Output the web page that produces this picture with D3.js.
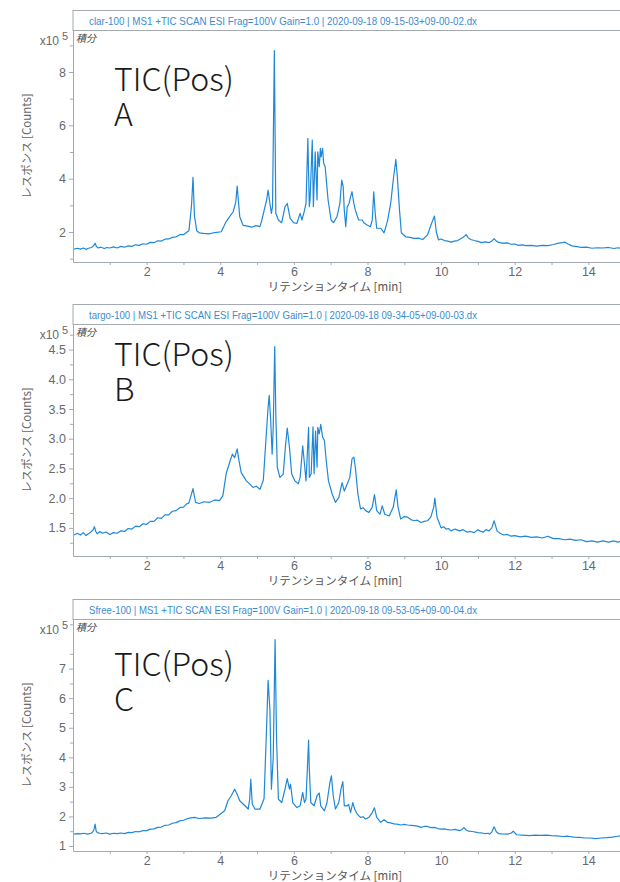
<!DOCTYPE html>
<html>
<head>
<meta charset="utf-8">
<script src="https://cdn.jsdelivr.net/npm/d3@7"></script>
<style>
  body { margin: 0; background: #ffffff; }
</style>
</head>
<body>
<svg id="Chart" width="620" height="882"></svg>
<script>
// Traces: [retention time (min), response (x10^5 counts)]
// Panel A: clar-100
var TitleA = "clar-100 | MS1 +TIC SCAN ESI Frag=100V Gain=1.0 | 2020-09-18 09-15-03+09-00-02.dx";
var TraceA = [[0.03,1.36],[0.12,1.39],[0.2,1.36],[0.28,1.40],[0.35,1.35],[0.42,1.39],[0.5,1.42],[0.56,1.48],[0.6,1.58],[0.64,1.45],
    [0.68,1.40],[0.76,1.43],[0.85,1.38],[0.92,1.42],[1.0,1.40],[1.1,1.44],[1.2,1.40],[1.3,1.46],[1.4,1.43],[1.5,1.48],
    [1.6,1.46],[1.7,1.52],[1.8,1.50],[1.9,1.56],[2.0,1.54],[2.1,1.61],[2.2,1.60],[2.3,1.67],[2.4,1.66],[2.5,1.73],
    [2.6,1.74],[2.7,1.80],[2.8,1.82],[2.9,1.90],[3.0,1.90],[3.08,1.98],[3.15,2.05],[3.22,3.0],[3.26,4.05],[3.3,2.6],
    [3.36,2.05],[3.43,1.97],[3.55,1.95],[3.7,1.93],[3.85,1.98],[4.03,2.01],[4.16,2.39],[4.35,2.76],[4.42,3.1],[4.46,3.72],
    [4.53,2.57],[4.62,2.25],[4.75,2.22],[4.85,2.18],[4.97,2.24],[5.08,2.2],[5.12,2.39],[5.26,3.2],[5.3,3.57],[5.35,3.07],
    [5.39,2.7],[5.42,2.95],[5.47,8.8],[5.51,2.7],[5.58,2.45],[5.67,2.35],[5.76,2.95],[5.82,3.07],[5.9,2.51],[5.99,2.35],
    [6.08,2.32],[6.17,2.7],[6.22,2.45],[6.28,2.76],[6.33,3.07],[6.38,5.51],[6.42,2.95],[6.44,3.2],[6.5,5.45],[6.53,2.95],
    [6.58,5.01],[6.63,3.2],[6.65,5.01],[6.69,4.45],[6.72,5.14],[6.74,4.82],[6.78,5.14],[6.81,4.58],[6.85,4.45],[6.93,3.2],
    [7.01,2.45],[7.08,2.35],[7.17,2.57],[7.25,3.07],[7.3,3.95],[7.34,3.7],[7.37,2.82],[7.41,2.2],[7.45,2.95],[7.5,3.07],
    [7.54,3.32],[7.58,3.51],[7.63,3.07],[7.67,2.82],[7.76,2.45],[7.86,2.45],[7.9,2.35],[7.99,2.26],[8.08,2.2],[8.13,2.45],
    [8.17,3.51],[8.21,2.7],[8.25,2.14],[8.36,2.14],[8.45,1.97],[8.54,2.39],[8.63,3.07],[8.7,3.95],[8.77,4.72],[8.81,4.1],
    [8.87,2.82],[8.92,1.97],[9.04,1.82],[9.15,1.80],[9.27,1.76],[9.38,1.77],[9.5,1.72],[9.63,1.89],[9.74,2.32],[9.82,2.6],
    [9.87,2.0],[9.93,1.70],[10.0,1.74],[10.09,1.68],[10.18,1.66],[10.27,1.62],[10.36,1.66],[10.45,1.68],[10.52,1.74],[10.6,1.8],
    [10.68,1.9],[10.74,1.78],[10.8,1.72],[10.9,1.68],[11.0,1.65],[11.1,1.60],[11.2,1.63],[11.3,1.60],[11.38,1.66],[11.44,1.75],
    [11.5,1.66],[11.55,1.62],[11.65,1.58],[11.8,1.59],[11.9,1.54],[12.0,1.55],[12.1,1.50],[12.2,1.52],[12.3,1.49],[12.45,1.50],
    [12.6,1.47],[12.75,1.50],[12.9,1.49],[13.05,1.53],[13.2,1.58],[13.3,1.60],[13.37,1.62],[13.45,1.55],[13.55,1.48],[13.7,1.45],
    [13.8,1.42],[13.95,1.43],[14.1,1.39],[14.25,1.41],[14.4,1.40],[14.55,1.42],[14.7,1.38],[14.8,1.41],[14.9,1.39]];

// Panel B: targo-100
var TitleB = "targo-100 | MS1 +TIC SCAN ESI Frag=100V Gain=1.0 | 2020-09-18 09-34-05+09-00-03.dx";
var TraceB = [[0.03,1.38],[0.12,1.41],[0.2,1.38],[0.28,1.42],[0.35,1.37],[0.44,1.41],[0.5,1.44],[0.55,1.47],[0.58,1.52],[0.62,1.44],
    [0.66,1.40],[0.73,1.44],[0.8,1.41],[0.9,1.43],[1.0,1.39],[1.1,1.42],[1.2,1.41],[1.3,1.45],[1.4,1.44],[1.5,1.49],
    [1.6,1.48],[1.7,1.53],[1.8,1.52],[1.9,1.57],[2.0,1.56],[2.1,1.61],[2.2,1.61],[2.3,1.67],[2.4,1.66],[2.5,1.72],
    [2.6,1.72],[2.7,1.78],[2.8,1.79],[2.9,1.84],[3.0,1.85],[3.08,1.90],[3.15,1.92],[3.26,2.16],[3.33,1.93],[3.43,1.91],
    [3.55,1.94],[3.71,1.93],[3.85,1.97],[3.98,1.96],[4.07,2.04],[4.16,2.41],[4.27,2.63],[4.33,2.74],[4.39,2.68],[4.46,2.83],
    [4.51,2.63],[4.57,2.43],[4.71,2.29],[4.8,2.24],[4.89,2.18],[4.98,2.20],[5.08,2.15],[5.17,2.3],[5.24,2.97],[5.3,3.53],
    [5.33,3.73],[5.37,3.31],[5.41,2.74],[5.44,3.2],[5.48,4.55],[5.51,3.4],[5.55,2.52],[5.62,2.35],[5.71,2.4],[5.77,2.86],
    [5.82,3.18],[5.88,2.86],[5.94,2.41],[6.03,2.29],[6.12,2.24],[6.17,2.35],[6.24,2.88],[6.28,2.63],[6.33,2.29],[6.4,3.19],
    [6.42,2.35],[6.47,2.41],[6.52,3.2],[6.55,2.41],[6.59,3.13],[6.63,2.52],[6.65,3.19],[6.69,3.08],[6.73,3.24],[6.78,3.03],
    [6.83,2.97],[6.88,2.63],[6.94,2.29],[7.04,2.07],[7.13,1.93],[7.22,2.01],[7.31,2.26],[7.37,2.12],[7.45,2.24],[7.52,2.35],
    [7.58,2.66],[7.63,2.69],[7.67,2.52],[7.74,2.07],[7.81,1.82],[7.88,1.84],[7.95,1.79],[8.04,1.76],[8.13,1.85],[8.19,2.06],
    [8.25,1.79],[8.34,1.73],[8.4,1.87],[8.47,1.73],[8.59,1.70],[8.7,1.85],[8.78,2.14],[8.83,1.85],[8.9,1.65],[9.0,1.69],
    [9.09,1.68],[9.18,1.64],[9.27,1.62],[9.36,1.63],[9.45,1.59],[9.54,1.61],[9.63,1.62],[9.72,1.68],[9.8,1.85],[9.83,2.0],
    [9.89,1.68],[10.0,1.5],[10.07,1.52],[10.14,1.48],[10.2,1.49],[10.27,1.45],[10.38,1.48],[10.5,1.45],[10.6,1.47],[10.7,1.43],
    [10.8,1.44],[10.9,1.42],[11.0,1.47],[11.08,1.44],[11.15,1.43],[11.22,1.47],[11.3,1.45],[11.38,1.50],[11.44,1.62],[11.52,1.45],
    [11.6,1.41],[11.7,1.38],[11.8,1.39],[11.9,1.36],[12.0,1.37],[12.15,1.35],[12.3,1.36],[12.45,1.34],[12.6,1.35],[12.75,1.33],
    [12.9,1.36],[13.05,1.32],[13.2,1.32],[13.35,1.30],[13.5,1.31],[13.65,1.29],[13.8,1.30],[13.95,1.27],[14.1,1.28],[14.25,1.26],
    [14.4,1.28],[14.55,1.26],[14.7,1.28],[14.8,1.26],[14.9,1.28]];

// Panel C: Sfree-100
var TitleC = "Sfree-100 | MS1 +TIC SCAN ESI Frag=100V Gain=1.0 | 2020-09-18 09-53-05+09-00-04.dx";
var TraceC = [[0.03,1.40],[0.12,1.42],[0.2,1.41],[0.3,1.43],[0.4,1.40],[0.48,1.43],[0.52,1.45],[0.57,1.55],[0.6,1.74],[0.63,1.50],
    [0.66,1.45],[0.73,1.43],[0.8,1.42],[0.9,1.44],[1.0,1.40],[1.1,1.43],[1.2,1.42],[1.3,1.44],[1.4,1.42],[1.5,1.46],
    [1.6,1.45],[1.7,1.49],[1.8,1.48],[1.9,1.52],[2.0,1.52],[2.1,1.57],[2.2,1.58],[2.3,1.63],[2.4,1.64],[2.5,1.70],
    [2.6,1.71],[2.7,1.77],[2.8,1.79],[2.9,1.85],[3.0,1.87],[3.1,1.92],[3.2,1.95],[3.3,1.97],[3.43,1.93],[3.6,1.95],
    [3.75,1.94],[3.89,1.97],[4.12,2.19],[4.21,2.53],[4.3,2.70],[4.39,2.92],[4.46,2.75],[4.53,2.53],[4.67,2.36],[4.76,2.25],
    [4.8,2.58],[4.83,3.26],[4.87,2.42],[4.94,2.25],[5.08,2.25],[5.19,2.6],[5.26,5.05],[5.3,6.6],[5.35,5.6],[5.39,2.92],
    [5.44,4.0],[5.49,7.98],[5.53,4.6],[5.58,2.58],[5.67,2.47],[5.76,2.92],[5.82,3.28],[5.88,2.92],[5.91,3.09],[5.97,2.47],
    [6.08,2.3],[6.17,2.36],[6.24,2.81],[6.29,2.47],[6.33,2.58],[6.37,3.7],[6.4,4.58],[6.42,3.6],[6.46,2.47],[6.55,2.36],
    [6.63,2.7],[6.69,2.79],[6.73,2.36],[6.83,2.19],[6.9,2.47],[6.98,3.15],[7.02,3.37],[7.07,2.7],[7.13,2.25],[7.22,2.47],
    [7.28,2.92],[7.33,3.18],[7.37,2.36],[7.45,2.36],[7.49,2.41],[7.54,2.13],[7.6,2.47],[7.65,2.25],[7.72,2.08],[7.81,1.97],
    [7.88,1.99],[7.95,1.91],[8.04,1.97],[8.13,2.13],[8.19,2.29],[8.25,1.97],[8.36,1.80],[8.45,1.89],[8.54,1.80],[8.63,1.78],
    [8.72,1.75],[8.81,1.74],[8.9,1.71],[9.0,1.73],[9.09,1.71],[9.18,1.70],[9.27,1.69],[9.36,1.67],[9.45,1.63],[9.54,1.66],
    [9.63,1.66],[9.72,1.62],[9.82,1.63],[9.91,1.59],[10.0,1.57],[10.09,1.58],[10.18,1.55],[10.27,1.54],[10.38,1.56],[10.5,1.52],
    [10.56,1.55],[10.62,1.62],[10.68,1.54],[10.75,1.50],[10.85,1.49],[11.0,1.45],[11.1,1.44],[11.2,1.42],[11.28,1.43],[11.32,1.40],
    [11.38,1.48],[11.44,1.65],[11.5,1.48],[11.56,1.42],[11.65,1.41],[11.8,1.40],[11.9,1.43],[11.96,1.50],[12.05,1.38],[12.2,1.37],
    [12.4,1.35],[12.55,1.37],[12.7,1.36],[12.85,1.37],[13.0,1.35],[13.15,1.34],[13.3,1.32],[13.45,1.33],[13.6,1.30],[13.75,1.29],
    [13.9,1.27],[14.05,1.27],[14.2,1.25],[14.35,1.27],[14.5,1.28],[14.65,1.30],[14.8,1.33],[14.9,1.35]];

// Axis text and ticks
var XTitle = "リテンションタイム [min]";
var YTitle = "レスポンス [Counts]";
var SubLabel = "積分";
var BigLabel = "TIC(Pos)";
var XMajor = [2, 4, 6, 8, 10, 12, 14];
var XMinor = [1, 3, 5, 7, 9, 11, 13];

// Panel layout
var Panels = [
    { Title: TitleA, Letter: "A", Trace: TraceA, Top: 10, YDomain: [0.875, 9.575],
      YMajor: [2, 4, 6, 8], YMinor: [1, 3, 5, 7, 9], YFormat: d3.format("d"), LabelY: 61 },
    { Title: TitleB, Letter: "B", Trace: TraceB, Top: 304, YDomain: [1.027, 4.93],
      YMajor: [1.5, 2.0, 2.5, 3.0, 3.5, 4.0, 4.5], YMinor: [1.25, 1.75, 2.25, 2.75, 3.25, 3.75, 4.25, 4.75],
      YFormat: d3.format(".1f"), LabelY: 42 },
    { Title: TitleC, Letter: "C", Trace: TraceC, Top: 599, YDomain: [0.83, 8.68],
      YMajor: [1, 2, 3, 4, 5, 6, 7], YMinor: [1.5, 2.5, 3.5, 4.5, 5.5, 6.5, 7.5, 8.5], YFormat: d3.format("d"), LabelY: 57 }
];

var Left = 73, Right = 620, BandHeight = 20, PlotHeight = 232;
var FrameColor = "#a3aab2", TickTextColor = "#666a70", TraceColor = "#1f88d8", TitleColor = "#3b8bd2";
var Font = "'Liberation Sans', Arial, sans-serif";
var JpFont = "'Noto Sans CJK JP', sans-serif";

var Svg = d3.select("#Chart");
var X = d3.scaleLinear().domain([0, 14.86]).range([Left, Right]);

Panels.forEach((Panel, Index) => {
    var G = Svg.append("g").attr("transform", `translate(0,${Panel.Top})`);
    var PlotTop = BandHeight, PlotBottom = BandHeight + PlotHeight;
    var Y = d3.scaleLinear().domain(Panel.YDomain).range([PlotBottom, PlotTop]);

    // Title band
    G.append("rect").attr("x", Left).attr("y", 0.5).attr("width", 600).attr("height", BandHeight)
        .attr("fill", "#ffffff").attr("stroke", FrameColor);
    G.append("text").attr("x", Left + 16).attr("y", 14.5).text(Panel.Title)
        .attr("font-family", Font).attr("font-size", 11).attr("fill", TitleColor)
        .attr("textLength", 388).attr("lengthAdjust", "spacingAndGlyphs");

    // Clip for the trace
    G.append("clipPath").attr("id", `Clip${Index}`).append("rect")
        .attr("x", Left).attr("y", PlotTop).attr("width", Right - Left).attr("height", PlotHeight);

    // Minor ticks first, then major axes
    G.append("g").attr("transform", `translate(${Left},0)`)
        .call(d3.axisLeft(Y).tickValues(Panel.YMinor).tickSize(3).tickSizeOuter(0).tickFormat(""))
        .call(A => A.select(".domain").remove());
    G.append("g").attr("transform", `translate(${Left},0)`)
        .call(d3.axisLeft(Y).tickValues(Panel.YMajor).tickSize(4).tickSizeOuter(0).tickPadding(3).tickFormat(Panel.YFormat));
    G.append("g").attr("transform", `translate(0,${PlotBottom})`)
        .call(d3.axisBottom(X).tickValues(XMinor).tickSize(3).tickSizeOuter(0).tickFormat(""))
        .call(A => A.select(".domain").remove());
    G.append("g").attr("transform", `translate(0,${PlotBottom})`)
        .call(d3.axisBottom(X).tickValues(XMajor).tickSize(3).tickSizeOuter(0).tickPadding(2));
    G.selectAll(".domain, .tick line").attr("stroke", FrameColor);
    G.selectAll(".tick text").attr("font-family", Font).attr("font-size", 12.5).attr("fill", TickTextColor);

    // Scale factor label
    G.append("text").attr("x", 59).attr("y", PlotTop + 15).attr("text-anchor", "end")
        .attr("font-family", Font).attr("font-size", 12).attr("fill", TickTextColor).text("x10");
    G.append("text").attr("x", 62).attr("y", PlotTop + 10)
        .attr("font-family", Font).attr("font-size", 11).attr("fill", TickTextColor).text("5");
    G.append("text").attr("x", Left + 3).attr("y", PlotTop + 12).text(SubLabel)
        .attr("font-family", JpFont).attr("font-size", 10).attr("font-style", "italic").attr("fill", "#444");

    // Axis titles
    G.append("text").attr("transform", `translate(31,${(PlotTop + PlotBottom) / 2}) rotate(-90)`)
        .attr("text-anchor", "middle").attr("font-family", JpFont).attr("font-size", 11.5)
        .attr("fill", "#666").text(YTitle);
    G.append("text").attr("x", 335).attr("y", PlotBottom + 29).attr("text-anchor", "middle")
        .attr("font-family", JpFont).attr("font-size", 11.5).attr("fill", "#555").text(XTitle);

    // Trace
    G.append("path").datum(Panel.Trace).attr("clip-path", `url(#Clip${Index})`)
        .attr("fill", "none").attr("stroke", TraceColor).attr("stroke-width", 1.2).attr("stroke-linejoin", "round")
        .attr("d", d3.line().x(D => X(D[0])).y(D => Y(D[1])));

    // Big sample label, two lines in one text block
    var Big = G.append("text").attr("y", PlotTop + Panel.LabelY)
        .attr("font-family", JpFont).attr("font-weight", 300).attr("font-size", 32).attr("fill", "#1a1a1a");
    Big.append("tspan").attr("x", 114).text(BigLabel);
    Big.append("tspan").attr("x", 114).attr("dy", 35).text(Panel.Letter);
});
</script>
</body>
</html>
